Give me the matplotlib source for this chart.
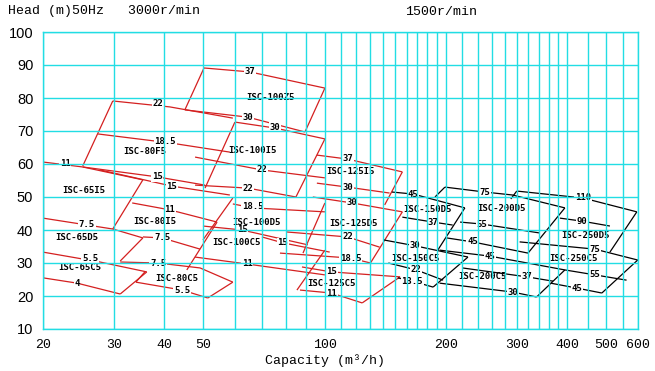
import matplotlib
matplotlib.use("Agg")
import matplotlib.pyplot as plt

# ---------- data: pump performance fields, capacity Q (m3/h) vs head H (m) ----------
# each family is a list of polylines (Q values, H values)
fam65 = [
    ([20, 20], [60.6, 25.5]),
    ([20, 25.1, 35.4], [60.6, 59.1, 55.2]),
    ([35.4, 29.8], [55.2, 40.3]),
    ([20, 29.8, 35.4], [43.6, 40.3, 37.6]),
    ([35.4, 31.1], [37.6, 30.6]),
    ([20, 27.7, 36.2], [33.3, 30.3, 27.3]),
    ([36.2, 31.1], [27.3, 20.6]),
    ([20, 24.3, 31.1], [25.5, 23.9, 20.6]),
]
fam80 = [
    ([29.8, 41.3, 59.2], [79.1, 77.3, 73.9]),
    ([29.8, 25.1], [79.1, 59.4]),
    ([27.4, 41.3, 58.2], [69.1, 66.4, 63.6]),
    ([25.1, 38.4, 50.5], [59.1, 56.1, 53.6]),
    ([27.7, 41.8, 58.2], [58.2, 53.3, 50.6]),
    ([33.3, 41.3, 54.1], [48.2, 46.1, 42.4]),
    ([54.1, 45.5], [42.4, 27.9]),
    ([35.4, 39.5, 49.1], [37.9, 37.6, 34.2]),
    ([31.1, 38.6, 49.1, 59.2], [30.3, 30.0, 28.5, 24.2]),
    ([59.2, 51.3], [24.2, 19.4]),
    ([51.3, 44.3, 34.0], [19.4, 21.8, 24.2]),
    ([34.0, 35.8], [24.2, 27.3]),
]
fam100 = [
    ([50.2, 65.3, 100.2], [89.1, 87.9, 83.0]),
    ([50.2, 45.0], [89.1, 76.4]),
    ([100.2, 89.4], [83.0, 69.7]),
    ([45.0, 64.5, 89.4], [76.4, 74.2, 69.7]),
    ([59.9, 75.3, 100.2], [72.7, 70.9, 67.6]),
    ([59.9, 50.5], [72.7, 52.7]),
    ([100.2, 84.9], [67.6, 50.0]),
    ([47.7, 69.9, 100.2], [62.1, 58.2, 55.8]),
    ([47.7, 64.5, 84.9], [53.6, 52.7, 50.0]),
    ([59.2, 66.4, 100.2], [47.9, 46.7, 45.5]),
    ([59.2, 49.9], [49.7, 37.0]),
    ([100.2, 88.4], [48.2, 33.0]),
    ([49.9, 62.4, 90.9], [41.2, 40.0, 35.5]),
    ([69.9, 78.8, 103], [37.9, 36.1, 33.3]),
    ([47.7, 64.2, 100.2], [31.8, 29.7, 26.4]),
    ([100.2, 85.4], [33.9, 21.8]),
]
fam125 = [
    ([95.7, 114, 156], [62.7, 61.5, 57.6]),
    ([156, 141], [57.6, 47.6]),
    ([95.7, 114, 145], [54.2, 53.0, 51.2]),
    ([93.5, 117, 156], [50.0, 48.2, 45.5]),
    ([156, 130], [45.5, 30.0]),
    ([80.6, 114, 137], [39.4, 37.9, 34.8]),
    ([77.5, 116, 130], [33.0, 31.5, 30.0]),
    ([87.9, 104, 154], [28.8, 27.3, 25.8]),
    ([154, 124], [25.8, 17.9]),
    ([86.9, 104, 124], [21.8, 20.9, 17.9]),
]
fam150 = [
    ([147, 166, 223], [51.5, 50.9, 46.7]),
    ([223, 191], [46.7, 33.9]),
    ([156, 186, 208], [43.9, 42.4, 41.5]),
    ([140, 168, 227], [37.0, 35.2, 31.8]),
    ([227, 186], [31.8, 22.7]),
    ([144, 169, 197], [30.0, 27.9, 24.8]),
    ([152, 165, 186], [25.5, 24.5, 22.7]),
]
fam200 = [
    ([199, 250, 293, 395], [53.0, 51.5, 50.6, 46.7]),
    ([199, 188], [53.0, 50.0]),
    ([395, 320], [46.7, 33.0]),
    ([217, 246, 342], [42.4, 41.8, 39.1]),
    ([201, 233, 320], [37.6, 36.4, 33.0]),
    ([193, 257, 395], [33.9, 32.1, 27.9]),
    ([395, 336], [27.9, 19.7]),
    ([220, 318, 369], [28.5, 25.8, 24.5]),
    ([193, 293, 336], [23.9, 21.2, 19.7]),
]
fam250 = [
    ([300, 438, 596], [51.8, 49.7, 45.5]),
    ([300, 290], [51.8, 49.4]),
    ([596, 511], [45.5, 33.3]),
    ([384, 435, 511], [43.6, 42.7, 41.2]),
    ([305, 469, 599], [36.4, 34.2, 30.9]),
    ([599, 488], [30.9, 20.9]),
    ([395, 469, 562], [27.9, 26.4, 24.8]),
    ([364, 423, 488], [23.9, 22.4, 20.9]),
]

# motor power labels (kW) sitting on the curves
kw_red = [
    ("11", 22.7, 60.0), ("7.5", 25.7, 41.8), ("5.5", 26.2, 31.5), ("4", 24.3, 23.9),
    ("22", 38.6, 78.2), ("18.5", 40.2, 66.7), ("15", 38.4, 56.1), ("15", 41.8, 53.3),
    ("11", 41.3, 46.1), ("7.5", 39.5, 37.6), ("7.5", 38.6, 30.0), ("5.5", 44.3, 21.8),
    ("37", 65.3, 87.9), ("30", 64.5, 74.2), ("30", 75.3, 71.2), ("22", 69.9, 58.2),
    ("22", 64.5, 52.7), ("18.5", 66.4, 47.0), ("15", 62.4, 40.0), ("15", 78.8, 36.1),
    ("11", 64.2, 29.7),
    ("37", 114, 61.8), ("30", 114, 53.0), ("30", 117, 48.2), ("22", 114, 37.9),
    ("18.5", 116, 31.5), ("15", 104, 27.3), ("11", 104, 20.9),
]
kw_black = [
    ("45", 166, 50.9), ("37", 186, 42.4), ("30", 168, 35.2), ("22", 169, 27.9),
    ("13.5", 165, 24.5),
    ("75", 250, 51.5), ("55", 246, 41.8), ("45", 233, 36.4), ("45", 257, 32.1),
    ("37", 318, 25.8), ("30", 293, 21.2),
    ("110", 438, 49.7), ("90", 435, 42.7), ("75", 469, 34.2), ("55", 469, 26.4),
    ("45", 423, 22.4),
]

# model names
names = [
    ("ISC-65I5", 25.3, 52.1), ("ISC-65D5", 24.3, 37.6), ("ISC-65C5", 24.7, 28.5),
    ("ISC-80F5", 35.8, 63.9), ("ISC-80I5", 37.9, 42.7), ("ISC-80C5", 43.0, 25.2),
    ("ISC-100Z5", 73.6, 80.3), ("ISC-100I5", 66.4, 64.2), ("ISC-100D5", 67.9, 42.4),
    ("ISC-100C5", 60.6, 36.1),
    ("ISC-125I5", 116, 57.6), ("ISC-125D5", 118, 42.1), ("ISC-125C5", 104, 23.9),
    ("ISC-150D5", 180, 46.1), ("ISC-150C5", 168, 31.5),
    ("ISC-200D5", 275, 46.4), ("ISC-200C5", 247, 25.8),
    ("ISC-250D5", 445, 38.2), ("ISC-250C5", 416, 31.5),
]

x_ticks = [20, 30, 40, 50, 100, 200, 300, 400, 500, 600]
y_ticks = [10, 20, 30, 40, 50, 60, 70, 80, 90, 100]
x_grid = (list(range(20, 101, 10)) + list(range(110, 201, 10))
          + list(range(220, 401, 20)) + [450, 500, 550, 600])

RED = "#d42020"
CYAN = "#22dde4"
MONO = "Liberation Mono"
LBL = "DejaVu Sans Mono"

fig = plt.figure(figsize=(6.55, 3.71), dpi=100)
ax = fig.add_axes([43/655, 1 - 329/371, 595/655, 297/371])
ax.set_xscale("log")
ax.set_xlim(20, 600)
ax.set_ylim(10, 100)

for fam, col in [(fam65, RED), (fam80, RED), (fam100, RED), (fam125, RED),
                 (fam150, "black"), (fam200, "black"), (fam250, "black")]:
    for q, h in fam:
        ax.plot(q, h, color=col, lw=0.9, zorder=2, solid_capstyle="butt")

for lab, q, h in kw_red + kw_black:
    ax.text(q, h, lab, fontsize=6.5, family=LBL, fontweight="bold", color="black",
            ha="center", va="center", zorder=3,
            bbox=dict(boxstyle="square,pad=0.08", fc="white", ec="none"))

for lab, q, h in names:
    ax.text(q, h, lab, fontsize=6.5, family=LBL, fontweight="bold", color="black",
            ha="center", va="center", zorder=3)

# cyan grid on top, like the original drawing
for xv in x_grid:
    ax.axvline(xv, color=CYAN, lw=1.0, zorder=4)
for yv in y_ticks:
    ax.axhline(yv, color=CYAN, lw=1.0, zorder=4)
for s in ax.spines.values():
    s.set_color(CYAN)
    s.set_linewidth(1.0)

ax.set_xticks(x_ticks)
ax.set_xticklabels([str(v) for v in x_ticks], family=MONO, fontsize=9.5)
ax.xaxis.set_minor_locator(matplotlib.ticker.NullLocator())
ax.set_yticks(y_ticks)
ax.set_yticklabels([str(v) for v in y_ticks], family="Liberation Sans", fontsize=10.5)
ax.tick_params(axis="both", length=0)
ax.tick_params(axis="x", pad=7)
ax.tick_params(axis="y", pad=7)

fig.text(8/655, 1 - 11/371, "Head (m)50Hz   3000r/min", family=MONO, fontsize=9.5,
         ha="left", va="center")
fig.text(405/655, 1 - 12/371, "1500r/min", family=MONO, fontsize=9.5,
         ha="left", va="center")
fig.text(325/655, 1 - 361/371, "Capacity (m\u00b3/h)", family=MONO, fontsize=9.5,
         ha="center", va="center")

fig.savefig("out.png", dpi=100)
